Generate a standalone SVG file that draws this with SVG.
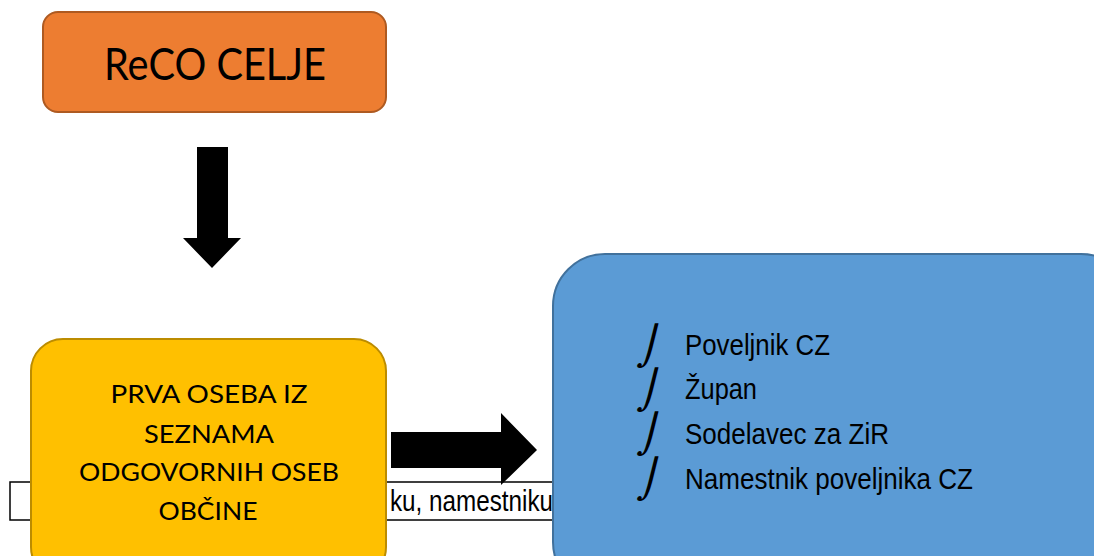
<svg xmlns="http://www.w3.org/2000/svg" width="1094" height="556" viewBox="0 0 1094 556">
<style>
.lbl{font-family:"Lato","Open Sans",sans-serif;fill:#000;text-anchor:middle}
.nar{font-family:"Liberation Sans",Arial,sans-serif;fill:#000;font-size:29px}
.bul{font-family:"DejaVu Sans",sans-serif;fill:#000;font-size:38px}
.arr{fill:#000}
</style>
<rect width="1094" height="556" fill="#fff"/>
<g id="textbox">
<rect x="10" y="482" width="545" height="38" fill="#fff" stroke="#000" stroke-width="1.5"/>
<text class="nar" x="390" y="511" font-size="25" textLength="163" lengthAdjust="spacingAndGlyphs">ku, namestniku</text>
</g>
<g id="reco">
<rect x="43" y="12" width="343" height="100" rx="15" fill="#ED7D31" stroke="#AE5A21" stroke-width="2"/>
<text class="lbl" x="215" y="80" font-size="44" textLength="222" lengthAdjust="spacingAndGlyphs">ReCO CELJE</text>
</g>
<g id="prva">
<rect x="31" y="339" width="355" height="240" rx="32" fill="#FFC000" stroke="#BC8C00" stroke-width="2"/>
<text class="lbl" x="209" y="403" font-size="25" textLength="197" lengthAdjust="spacingAndGlyphs">PRVA OSEBA IZ</text>
<text class="lbl" x="209" y="443" font-size="25" textLength="130" lengthAdjust="spacingAndGlyphs">SEZNAMA</text>
<text class="lbl" x="209" y="481" font-size="25" textLength="260" lengthAdjust="spacingAndGlyphs">ODGOVORNIH OSEB</text>
<text class="lbl" x="208" y="520" font-size="25" textLength="99" lengthAdjust="spacingAndGlyphs">OBČINE</text>
</g>
<g id="seznam">
<rect x="553" y="254" width="580" height="340" rx="52" fill="#5B9BD5" stroke="#41719C" stroke-width="2"/>
<text class="bul" transform="translate(638,359) skewX(-14)">⌡</text>
<text class="bul" transform="translate(638,403) skewX(-14)">⌡</text>
<text class="bul" transform="translate(638,447) skewX(-14)">⌡</text>
<text class="bul" transform="translate(638,492) skewX(-14)">⌡</text>
<text class="nar" x="685" y="355" textLength="145" lengthAdjust="spacingAndGlyphs">Poveljnik CZ</text>
<text class="nar" x="685" y="399" textLength="72" lengthAdjust="spacingAndGlyphs">Župan</text>
<text class="nar" x="685" y="444" textLength="204" lengthAdjust="spacingAndGlyphs">Sodelavec za ZiR</text>
<text class="nar" x="685" y="489" textLength="288" lengthAdjust="spacingAndGlyphs">Namestnik poveljnika CZ</text>
</g>
<g id="connectors">
<polygon class="arr" points="197,147 228,147 228,238 241,238 212,268 183,238 197,238"/>
<polygon class="arr" points="391,432 501,432 501,413 537,450 501,485 501,468 391,468"/>
</g>
</svg>
